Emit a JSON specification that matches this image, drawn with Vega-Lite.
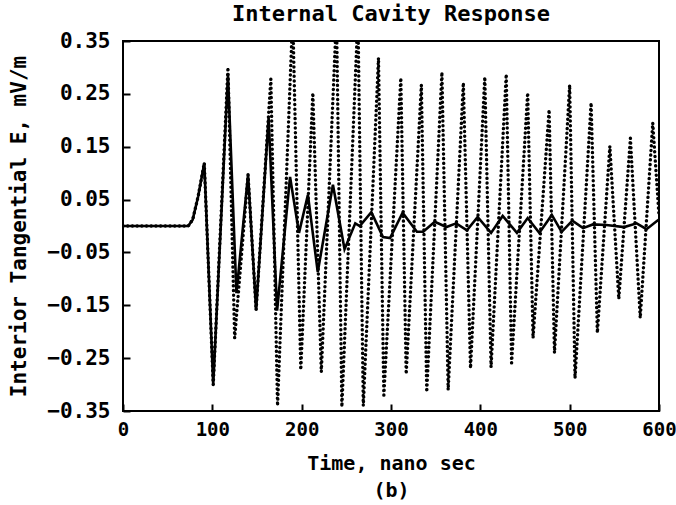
{
  "$schema": "https://vega.github.io/schema/vega-lite/v6.json",
  "width": 536,
  "height": 370,
  "autosize": {"type": "none"},
  "padding": {"left": 123, "top": 41, "right": 17, "bottom": 94},
  "background": "white",
  "title": {"text": "Internal Cavity Response", "font": "DejaVu Sans Mono", "fontSize": 22, "fontWeight": "bold", "color": "black", "anchor": "middle", "offset": 4},
  "config": {
    "view": {"stroke": "black", "strokeWidth": 2},
    "axis": {"grid": false, "domain": false, "tickColor": "black", "tickWidth": 2, "labelColor": "black", "titleColor": "black", "labelFont": "DejaVu Sans Mono", "labelFontWeight": "bold", "titleFont": "DejaVu Sans Mono", "titleFontWeight": "bold"}
  },
  "datasets": {
    "solid": [
      {"t": 0, "v": 0}, {"t": 73, "v": 0}, {"t": 78, "v": 0.012}, {"t": 84, "v": 0.055}, {"t": 91, "v": 0.119},
      {"t": 101, "v": -0.30}, {"t": 117.5, "v": 0.285}, {"t": 127, "v": -0.127}, {"t": 140, "v": 0.097},
      {"t": 149, "v": -0.159}, {"t": 163, "v": 0.204}, {"t": 172.5, "v": -0.16}, {"t": 187, "v": 0.093},
      {"t": 197, "v": -0.013}, {"t": 207, "v": 0.059}, {"t": 218, "v": -0.087}, {"t": 235, "v": 0.078},
      {"t": 248, "v": -0.044}, {"t": 260, "v": 0.005}, {"t": 265, "v": 0.0}, {"t": 278, "v": 0.026},
      {"t": 291, "v": -0.021}, {"t": 299, "v": -0.023}, {"t": 313, "v": 0.025}, {"t": 329, "v": -0.011},
      {"t": 336, "v": -0.011}, {"t": 349, "v": 0.008}, {"t": 362, "v": -0.002}, {"t": 373, "v": 0.005},
      {"t": 385, "v": -0.008}, {"t": 397, "v": 0.017}, {"t": 412, "v": -0.013}, {"t": 425, "v": 0.019},
      {"t": 441, "v": -0.013}, {"t": 453, "v": 0.015}, {"t": 466, "v": -0.013}, {"t": 480, "v": 0.021},
      {"t": 491, "v": -0.011}, {"t": 503, "v": 0.01}, {"t": 515, "v": -0.004}, {"t": 526, "v": 0.003},
      {"t": 541, "v": 0.002}, {"t": 561, "v": -0.002}, {"t": 575, "v": 0.005}, {"t": 586, "v": -0.006},
      {"t": 598, "v": 0.01}, {"t": 600, "v": 0.012}
    ],
    "dotted": [
      {"t": 0, "v": 0}, {"t": 73, "v": 0}, {"t": 78, "v": 0.012}, {"t": 84, "v": 0.055}, {"t": 91, "v": 0.119},
      {"t": 101, "v": -0.30}, {"t": 117.5, "v": 0.30}, {"t": 125, "v": -0.212}, {"t": 140, "v": 0.097},
      {"t": 149, "v": -0.159}, {"t": 165.5, "v": 0.278}, {"t": 173, "v": -0.34}, {"t": 190, "v": 0.40},
      {"t": 199, "v": -0.272}, {"t": 212.5, "v": 0.252}, {"t": 222, "v": -0.276}, {"t": 239, "v": 0.40},
      {"t": 245, "v": -0.342}, {"t": 263, "v": 0.40}, {"t": 269, "v": -0.34}, {"t": 286, "v": 0.318},
      {"t": 292, "v": -0.32}, {"t": 311, "v": 0.28}, {"t": 317, "v": -0.28}, {"t": 334, "v": 0.267},
      {"t": 340, "v": -0.314}, {"t": 357, "v": 0.291}, {"t": 364, "v": -0.31}, {"t": 381, "v": 0.271},
      {"t": 389, "v": -0.269}, {"t": 405, "v": 0.282}, {"t": 412, "v": -0.267}, {"t": 429, "v": 0.287},
      {"t": 435, "v": -0.259}, {"t": 453, "v": 0.252}, {"t": 459, "v": -0.212}, {"t": 477, "v": 0.22},
      {"t": 483, "v": -0.24}, {"t": 500, "v": 0.267}, {"t": 506, "v": -0.288}, {"t": 524, "v": 0.233},
      {"t": 531, "v": -0.202}, {"t": 545, "v": 0.151}, {"t": 555, "v": -0.138}, {"t": 568, "v": 0.166},
      {"t": 579, "v": -0.174}, {"t": 593, "v": 0.195}, {"t": 600, "v": 0.02}
    ]
  },
  "encoding": {
    "x": {"field": "t", "type": "quantitative",
      "scale": {"domain": [0, 600], "nice": false, "zero": false},
      "axis": {"values": [0, 100, 200, 300, 400, 500, 600], "tickSize": -7, "labelPadding": 16, "labelFontSize": 19, "labelFlush": false,
        "title": ["Time, nano sec", "(b)"], "titleFontSize": 20, "titleLineHeight": 27, "titlePadding": 14}},
    "y": {"field": "v", "type": "quantitative",
      "scale": {"domain": [-0.35, 0.35], "nice": false, "zero": false},
      "axis": {"values": [-0.35, -0.25, -0.15, -0.05, 0.05, 0.15, 0.25, 0.35], "format": ".2f", "tickSize": -7, "labelPadding": 20, "labelFontSize": 21, "labelFlush": false,
        "title": "Interior Tangential E, mV/m", "titleFontSize": 21, "titlePadding": 17}}
  },
  "layer": [
    {"data": {"name": "dotted"}, "mark": {"type": "line", "clip": true, "color": "black", "strokeWidth": 3.4, "strokeCap": "round", "strokeDash": [0.1, 4.6]}},
    {"data": {"name": "solid"}, "mark": {"type": "line", "clip": true, "color": "black", "strokeWidth": 2.6}}
  ]
}
